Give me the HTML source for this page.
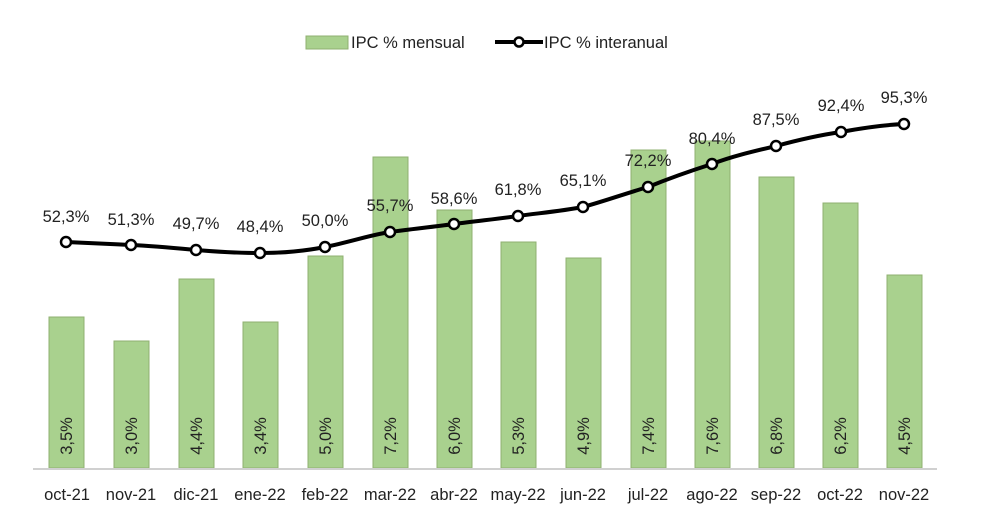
<!DOCTYPE html>
<html><head><meta charset="utf-8"><style>
html,body{margin:0;padding:0;background:#fff;}
svg{display:block;font-family:"Liberation Sans",Arial,sans-serif;}
</style></head><body>
<svg width="1000" height="527" viewBox="0 0 1000 527" xmlns="http://www.w3.org/2000/svg">
<!-- legend -->
<rect x="306" y="36" width="42" height="13" fill="#a9d18e" stroke="#8fb070" stroke-width="1"/>
<text x="351" y="48" font-size="16.5" fill="#222">IPC % mensual</text>
<line x1="495" y1="42" x2="543" y2="42" stroke="#000" stroke-width="4"/>
<circle cx="519" cy="42" r="4.5" fill="#fff" stroke="#000" stroke-width="2.5"/>
<text x="544" y="48" font-size="16.5" fill="#222">IPC % interanual</text>
<!-- bars -->
<g fill="#a9d18e" stroke="#8fb070" stroke-width="1">
<rect x="49" y="317" width="35" height="151"/>
<rect x="114" y="341" width="35" height="127"/>
<rect x="179" y="279" width="35" height="189"/>
<rect x="243" y="322" width="35" height="146"/>
<rect x="308" y="256" width="35" height="212"/>
<rect x="373" y="157" width="35" height="311"/>
<rect x="437" y="210" width="35" height="258"/>
<rect x="501" y="242" width="35" height="226"/>
<rect x="566" y="258" width="35" height="210"/>
<rect x="631" y="150" width="35" height="318"/>
<rect x="695" y="141" width="35" height="327"/>
<rect x="759" y="177" width="35" height="291"/>
<rect x="823" y="203" width="35" height="265"/>
<rect x="887" y="275" width="35" height="193"/>
</g>
<line x1="33" y1="469" x2="937" y2="469" stroke="#d0d0d0" stroke-width="2"/>
<!-- bar labels -->
<g font-size="16.5" fill="#222" text-anchor="middle">
<text transform="translate(72,436) rotate(-90)">3,5%</text>
<text transform="translate(137,436) rotate(-90)">3,0%</text>
<text transform="translate(202,436) rotate(-90)">4,4%</text>
<text transform="translate(266,436) rotate(-90)">3,4%</text>
<text transform="translate(331,436) rotate(-90)">5,0%</text>
<text transform="translate(396,436) rotate(-90)">7,2%</text>
<text transform="translate(460,436) rotate(-90)">6,0%</text>
<text transform="translate(524,436) rotate(-90)">5,3%</text>
<text transform="translate(589,436) rotate(-90)">4,9%</text>
<text transform="translate(654,436) rotate(-90)">7,4%</text>
<text transform="translate(718,436) rotate(-90)">7,6%</text>
<text transform="translate(782,436) rotate(-90)">6,8%</text>
<text transform="translate(846,436) rotate(-90)">6,2%</text>
<text transform="translate(910,436) rotate(-90)">4,5%</text>
</g>
<!-- categories -->
<g font-size="16.5" fill="#222" text-anchor="middle">
<text x="67" y="500">oct-21</text><text x="131" y="500">nov-21</text><text x="196" y="500">dic-21</text>
<text x="260" y="500">ene-22</text><text x="325" y="500">feb-22</text><text x="390" y="500">mar-22</text>
<text x="454" y="500">abr-22</text><text x="518" y="500">may-22</text><text x="583" y="500">jun-22</text>
<text x="648" y="500">jul-22</text><text x="712" y="500">ago-22</text><text x="776" y="500">sep-22</text>
<text x="840" y="500">oct-22</text><text x="904" y="500">nov-22</text>
</g>
<!-- line -->
<path d="M66,242 C90,243 110,244 131,245 C155,246 175,248 196,250 C220,252 240,253 260,253 C285,253 305,251 325,247 C350,242 370,235 390,232 C412,229 432,227 454,224 C476,221 497,219 518,216 C540,213 562,211 583,207 C605,201 627,193 648,187 C670,178 690,171 712,164 C733,156 755,151 776,146 C798,140 820,135 841,132 C862,128 883,125 904,124" fill="none" stroke="#000" stroke-width="4"/>
<g fill="#fff" stroke="#000" stroke-width="2.5">
<circle cx="66" cy="242" r="5"/><circle cx="131" cy="245" r="5"/><circle cx="196" cy="250" r="5"/>
<circle cx="260" cy="253" r="5"/><circle cx="325" cy="247" r="5"/><circle cx="390" cy="232" r="5"/>
<circle cx="454" cy="224" r="5"/><circle cx="518" cy="216" r="5"/><circle cx="583" cy="207" r="5"/>
<circle cx="648" cy="187" r="5"/><circle cx="712" cy="164" r="5"/><circle cx="776" cy="146" r="5"/>
<circle cx="841" cy="132" r="5"/><circle cx="904" cy="124" r="5"/>
</g>
<g font-size="16.5" fill="#222" text-anchor="middle">
<text x="66" y="222">52,3%</text><text x="131" y="225">51,3%</text><text x="196" y="229">49,7%</text>
<text x="260" y="232">48,4%</text><text x="325" y="226">50,0%</text><text x="390" y="211">55,7%</text>
<text x="454" y="204">58,6%</text><text x="518" y="195">61,8%</text><text x="583" y="186">65,1%</text>
<text x="648" y="166">72,2%</text><text x="712" y="144">80,4%</text><text x="776" y="125">87,5%</text>
<text x="841" y="111">92,4%</text><text x="904" y="103">95,3%</text>
</g>
</svg>
</body></html>
